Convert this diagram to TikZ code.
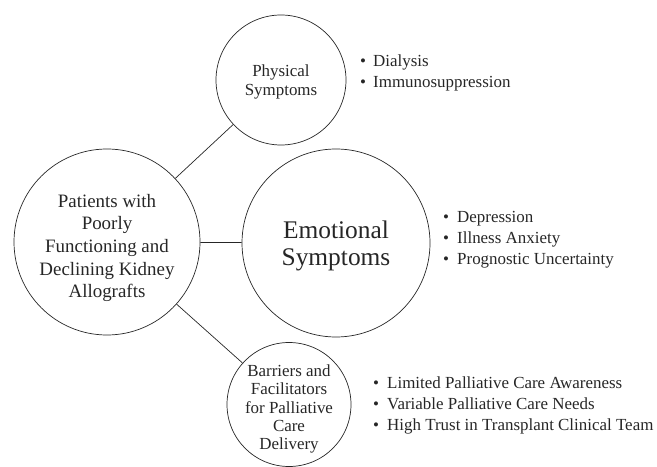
\documentclass[tikz,border=0pt]{standalone}
\usepackage{fontspec}
\setmainfont{Liberation Serif}
\begin{document}
\begin{tikzpicture}[x=1bp,y=-1bp,
  bubble/.style={circle,draw=black!85,line width=0.7bp,inner sep=0pt},
  btext/.style={align=center,inner sep=0pt,text=black!85},
  link/.style={draw=black!85,line width=0.7bp},
  item/.style={anchor=base west,inner sep=0pt,font=\fontsize{17}{21}\selectfont,text=black!85}
]
\useasboundingbox (0,0) rectangle (657,467);
\begin{scope}
\clip (0,0) rectangle (657,467);
\node[bubble,minimum size=186bp] (L) at (107,242) {};
\node[bubble,minimum size=130bp] (P) at (281,80) {};
\node[bubble,minimum size=188bp] (E) at (336,243) {};
\node[bubble,minimum size=124bp] (B) at (289,404.5) {};
\end{scope}
\node[btext,font=\fontsize{19}{22.7}\selectfont] (Lt) at (107,248)
  {Patients with\\Poorly\\Functioning and\\Declining Kidney\\Allografts};
\node[btext,font=\fontsize{17}{18.5}\selectfont] (Pt) at (281,82)
  {Physical\\Symptoms};
\node[btext,font=\fontsize{25.5}{27}\selectfont] (Et) at (336,246)
  {Emotional\\Symptoms};
\node[btext,font=\fontsize{17}{18.3}\selectfont] (Bt) at (289,409)
  {Barriers and\\Facilitators\\for Palliative\\Care\\Delivery};
\draw[link] (L) -- (P);
\draw[link] (L) -- (E);
\draw[link] (L) -- (B);
\node[item] (p1) at (360,67) {\makebox[13bp][l]{\textbullet}Dialysis};
\node[item] (p2) at (360,88) {\makebox[13bp][l]{\textbullet}Immunosuppression};
\node[item] (e1) at (443,223) {\makebox[14bp][l]{\textbullet}Depression};
\node[item] (e2) at (443,244) {\makebox[14bp][l]{\textbullet}Illness Anxiety};
\node[item] (e3) at (443,265) {\makebox[14bp][l]{\textbullet}Prognostic Uncertainty};
\node[item] (b1) at (373,388) {\makebox[14bp][l]{\textbullet}Limited Palliative Care Awareness};
\node[item] (b2) at (373,409) {\makebox[14bp][l]{\textbullet}Variable Palliative Care Needs};
\node[item] (b3) at (373,430) {\makebox[14bp][l]{\textbullet}High Trust in Transplant Clinical Team};
\end{tikzpicture}
\end{document}
